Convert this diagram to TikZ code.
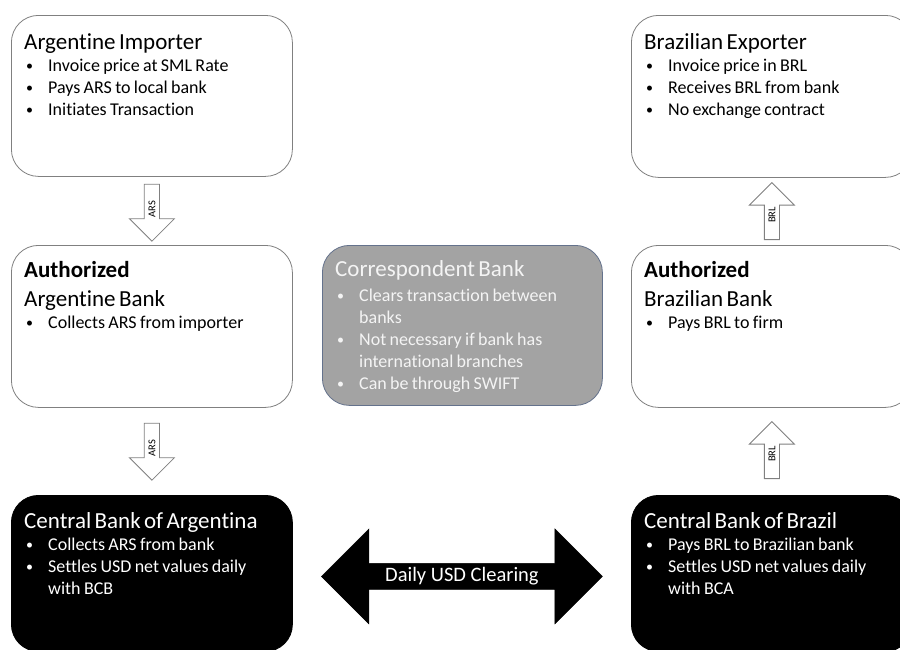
\documentclass[tikz,border=0pt]{standalone}
\usepackage{fontspec}
\setmainfont{Carlito}[Ligatures=NoCommon]
\usetikzlibrary{shapes.arrows,calc}

\definecolor{boxline}{RGB}{128,128,128}
\definecolor{corrfill}{RGB}{163,163,163}
\definecolor{corrline}{RGB}{100,114,140}
\definecolor{corrtext}{RGB}{244,244,244}

% box headings and bullet lines
\newcommand{\hd}[1]{{\fontsize{23}{29}\selectfont #1\par}}
\newcommand{\hdb}[1]{{\fontsize{23}{29}\selectfont\bfseries #1\par}}
\newcommand{\bdot}{{\fontsize{14}{14}\selectfont\raisebox{1pt}{\textbullet}}}
\newcommand{\bitem}[1]{{\fontsize{18}{22}\selectfont\hangindent=24pt\hangafter=1\noindent
	\makebox[24pt][l]{\hspace{2pt}\bdot}#1\par}}

\begin{document}
\begin{tikzpicture}[x=1pt, y=-1pt,
	wbox/.style={draw=boxline, fill=white, line width=0.8pt, rounded corners=27pt,
		minimum width=281pt, inner sep=0, anchor=north west},
	kbox/.style={wbox, draw=black, fill=black},
	gbox/.style={wbox, draw=corrline, fill=corrfill, minimum width=280pt},
	txt/.style={anchor=north west, inner sep=0, text width=266pt, align=left},
	flow/.style={single arrow, draw=boxline, fill=white, line width=0.8pt,
		minimum width=45pt, single arrow head extend=11.5pt, minimum height=57pt,
		inner sep=2pt, rotate=90, font=\fontsize{10.5}{12}\selectfont}]

	\useasboundingbox[fill=white] (0,0) rectangle (900,649);

	\def\xl{11}
	\def\xr{631}

	% ============ ARGENTINE SIDE ============

	\node[wbox, minimum height=161pt] (imp) at (\xl,15) {};
	\node[wbox, minimum height=162pt] (arb) at (\xl,245) {};
	\node[kbox, minimum height=156pt] (cba) at (\xl,495) {};

	\node[txt] (imp-t) at ([shift={(13,18)}]imp.north west) {%
		\hd{Argentine Importer}
		\bitem{Invoice price at SML Rate}
		\bitem{Pays ARS to local bank}
		\bitem{Initiates Transaction}};
	\node[txt] (arb-t) at ([shift={(13,16)}]arb.north west) {%
		\hdb{Authorized}
		\hd{Argentine Bank}
		\bitem{Collects ARS from importer}};
	\node[txt, text=white] (cba-t) at ([shift={(13,17)}]cba.north west) {%
		\hd{Central Bank of Argentina}
		\bitem{Collects ARS from bank}
		\bitem{Settles USD net values daily\newline with BCB}};

	% ARS goes down
	\node[flow, shape border rotate=180, anchor=tail] (ars1) at ([yshift=-7pt]imp.south) {ARS};
	\node[flow, shape border rotate=180, anchor=tail] (ars2) at ([yshift=-15pt]arb.south) {ARS};

	% ============ BRAZILIAN SIDE ============

	\node[wbox, minimum height=162pt] (exp) at (\xr,15) {};
	\node[wbox, minimum height=162pt] (brb) at (\xr,245) {};
	\node[kbox, minimum height=156pt] (cbb) at (\xr,495) {};

	\node[txt] (exp-t) at ([shift={(13,18)}]exp.north west) {%
		\hd{Brazilian Exporter}
		\bitem{Invoice price in BRL}
		\bitem{Receives BRL from bank}
		\bitem{No exchange contract}};
	\node[txt] (brb-t) at ([shift={(13,16)}]brb.north west) {%
		\hdb{Authorized}
		\hd{Brazilian Bank}
		\bitem{Pays BRL to firm}};
	\node[txt, text=white] (cbb-t) at ([shift={(13,17)}]cbb.north west) {%
		\hd{Central Bank of Brazil}
		\bitem{Pays BRL to Brazilian bank}
		\bitem{Settles USD net values daily\newline with BCA}};

	% BRL goes up
	\node[flow, anchor=tail] (brl1) at ([yshift=5pt]brb.north) {BRL};
	\node[flow, anchor=tail] (brl2) at ([yshift=16pt]cbb.north) {BRL};

	% ============ MIDDLE ============

	\node[gbox, minimum height=160pt] (corr) at (322,245) {};
	\node[txt, text=corrtext] (corr-t) at ([shift={(13,15)}]corr.north west) {%
		\hd{Correspondent Bank}\vspace{3pt}
		\bitem{Clears transaction between\newline banks}
		\bitem{Not necessary if bank has\newline international branches}
		\bitem{Can be through SWIFT}};

	\node[double arrow, draw=black, fill=black, text=white, minimum width=95pt,
		double arrow head extend=24pt, minimum height=281pt, inner sep=0,
		font=\fontsize{20.5}{24}\selectfont]
		(usd) at ($(cba.east)!0.5!(cbb.west)+(0,3)$) {Daily USD Clearing};

\end{tikzpicture}
\end{document}
